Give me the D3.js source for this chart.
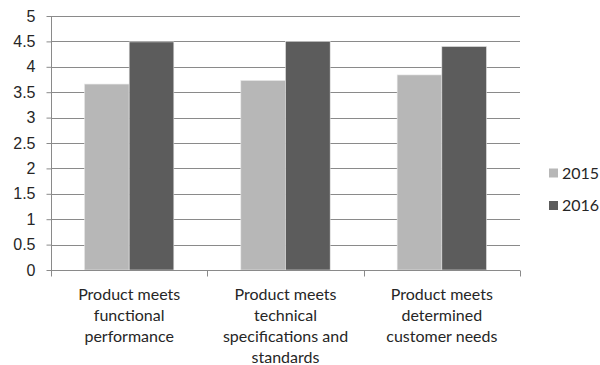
<!DOCTYPE html>
<html><head><meta charset="utf-8">
<script src="https://cdn.jsdelivr.net/npm/d3@7"></script>
<style>html,body{margin:0;padding:0;background:#fff;}svg{display:block;font-family:Lato,"Open Sans",sans-serif;}</style>
</head><body>
<script>
const categories = [
  ["Product meets", "functional", "performance"],
  ["Product meets", "technical", "specifications and", "standards"],
  ["Product meets", "determined", "customer needs"]
];
const seriesNames = ["2015", "2016"];
const values2015 = [3.66, 3.73, 3.84];
const values2016 = [4.49, 4.5, 4.4];
const yTicks = [0, 0.5, 1, 1.5, 2, 2.5, 3, 3.5, 4, 4.5, 5];
const colors = ["#b7b7b7", "#5c5c5c"];

const W = 600, H = 365;
const m = {left: 51, right: 80, top: 16, bottom: 95};
const svg = d3.select("body").append("svg").attr("width", W).attr("height", H);
const x0 = d3.scaleBand().domain(d3.range(categories.length)).range([m.left, W - m.right]).padding(0);
const x1 = d3.scaleBand().domain(seriesNames).range([0, x0.bandwidth()]).paddingInner(0).paddingOuter(0.75);
const y = d3.scaleLinear().domain([0, 5]).range([H - m.bottom, m.top]);
const textColor = "#262626";

// gridlines
svg.append("g").selectAll("line").data(yTicks.filter(d => d > 0)).join("line")
  .attr("x1", m.left).attr("x2", W - m.right)
  .attr("y1", d => Math.round(y(d)) + 0.5).attr("y2", d => Math.round(y(d)) + 0.5)
  .attr("stroke", "#8a8a8a").attr("stroke-width", 1);

// bars
const data = categories.map((c, i) => [values2015[i], values2016[i]]);
const g = svg.append("g");
data.forEach((vals, i) => {
  vals.forEach((v, j) => {
    g.append("rect")
      .attr("x", x0(i) + x1(seriesNames[j]))
      .attr("y", y(v))
      .attr("width", x1.bandwidth())
      .attr("height", y(0) - y(v))
      .attr("fill", colors[j])
      .attr("stroke", "#e6e6e6").attr("stroke-width", 0.6);
  });
});

// y axis
const yAxis = d3.axisLeft(y).tickValues(yTicks).tickFormat(d3.format("")).tickSize(5).tickPadding(11);
const ya = svg.append("g").attr("transform", `translate(${m.left + 0.5},0)`).call(yAxis);
ya.select(".domain").attr("stroke", "#8a8a8a").attr("d", `M0,${y(5)}V${y(0)}`);
ya.selectAll(".tick line").attr("stroke", "#8a8a8a");
ya.selectAll(".tick text").attr("fill", textColor).style("font-size", "16px");

// x axis
const xa = svg.append("g").attr("transform", `translate(0,${Math.round(y(0)) + 0.5})`);
xa.append("line").attr("x1", m.left).attr("x2", W - m.right).attr("stroke", "#8a8a8a");
const bounds = d3.range(categories.length + 1).map(i => i < categories.length ? x0(i) : x0(i - 1) + x0.bandwidth());
xa.selectAll(".tk").data(bounds).join("line")
  .attr("x1", d => Math.round(d) + 0.5).attr("x2", d => Math.round(d) + 0.5)
  .attr("y1", 0).attr("y2", 6).attr("stroke", "#8a8a8a");
categories.forEach((lines, i) => {
  const t = xa.append("text").attr("text-anchor", "middle").attr("fill", textColor)
    .style("font-size", "16px")
    .attr("transform", `translate(${x0(i) + x0.bandwidth() / 2},0)`);
  lines.forEach((ln, k) => t.append("tspan").attr("x", 0).attr("y", 29.5 + k * 21).text(ln));
});

// legend
const lg = svg.append("g");
seriesNames.forEach((s, j) => {
  const cy = 173 + j * 32.5;
  lg.append("rect").attr("x", 549).attr("y", cy - 4.5).attr("width", 9).attr("height", 9).attr("fill", colors[j]);
  lg.append("text").attr("x", 562).attr("y", cy).attr("dy", "0.35em").attr("fill", textColor)
    .style("font-size", "16px").text(s);
});
</script>
</body></html>
